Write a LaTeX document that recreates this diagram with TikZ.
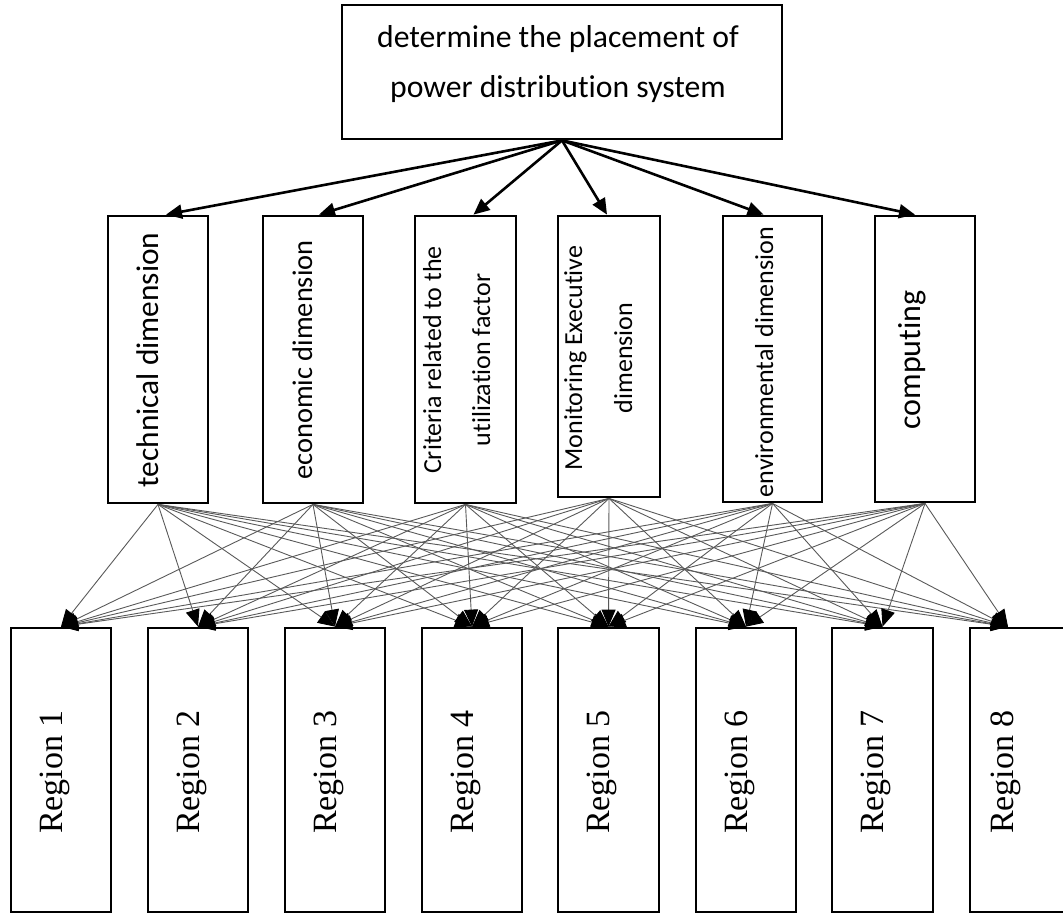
\documentclass[tikz,border=0pt]{standalone}
\usepackage{fontspec}
\setmainfont{Liberation Serif}
\newfontfamily\calfont[Ligatures=NoCommon]{Carlito}
\usetikzlibrary{arrows.meta,calc}
\begin{document}
\begin{tikzpicture}[x=1pt,y=-1pt,
  box/.style={draw=black,line width=2.8pt,inner sep=0pt},
  midbox/.style={box,minimum width=100pt,minimum height=287pt},
  regbox/.style={box,minimum width=100pt,minimum height=284pt},
  toparrow/.style={line width=2.6pt,-{Triangle[length=16pt,width=14pt]}},
  fan/.style={line width=0.9pt,draw=black!65,-{Triangle[length=17pt,width=14pt,fill=black,color=black]}},
  vtext/.style={rotate=90,anchor=base,inner sep=0pt},
  regtext/.style={vtext,font=\fontsize{34}{40}\selectfont}
]
\useasboundingbox (0,0) rectangle (1063,914);

% top box
\node[box,minimum width=440pt,minimum height=134pt] (top) at (562,72) {};
\node[anchor=base,inner sep=0pt,font=\calfont\fontsize{31.7}{38}\selectfont] (tt1) at (558,47) {determine the placement of};
\node[anchor=base,inner sep=0pt,font=\calfont\fontsize{31.7}{38}\selectfont] (tt2) at (558,97) {power distribution system};

% middle boxes
\node[midbox] (m1) at (158,359.5) {};
\node[midbox] (m2) at (313,359.5) {};
\node[midbox,minimum width=101pt] (m3) at (465.5,359.5) {};
\node[midbox,minimum width=102pt,minimum height=281pt] (m4) at (609,356.5) {};
\node[midbox,minimum width=99pt,minimum height=286pt] (m5) at (772.5,359) {};
\node[midbox,minimum height=286pt] (m6) at (925,359) {};

\node[vtext,font=\calfont\fontsize{31.4}{38}\selectfont] (t1) at (158,360) {technical dimension};
\node[vtext,font=\calfont\fontsize{28.4}{34}\selectfont] (t2) at (312,360) {economic dimension};
\node[vtext,font=\calfont\fontsize{26}{31}\selectfont] (t3a) at (441,360) {Criteria related to the};
\node[vtext,font=\calfont\fontsize{26}{31}\selectfont] (t3b) at (490,360) {utilization factor};
\node[vtext,font=\calfont\fontsize{26}{31}\selectfont] (t4a) at (582,358) {Monitoring Executive};
\node[vtext,font=\calfont\fontsize{26}{31}\selectfont] (t4b) at (632,358) {dimension};
\node[vtext,font=\calfont\fontsize{26}{31}\selectfont] (t5) at (773,362) {environmental dimension};
\node[vtext,font=\calfont\fontsize{32}{38}\selectfont] (t6) at (920,360) {computing};

% region boxes
\node[regbox] (r1) at (61,770) {};
\node[regbox] (r2) at (198,770) {};
\node[regbox] (r3) at (335,770) {};
\node[regbox] (r4) at (472,770) {};
\node[regbox,minimum width=101pt] (r5) at (608.5,770) {};
\node[regbox] (r6) at (746,770) {};
\node[regbox,minimum width=101pt] (r7) at (882.5,770) {};
\node[regbox] (r8) at (1020,770) {};

\node[regtext] (rt1) at (62,772) {Region 1};
\node[regtext] (rt2) at (199,772) {Region 2};
\node[regtext] (rt3) at (336,772) {Region 3};
\node[regtext] (rt4) at (473,772) {Region 4};
\node[regtext] (rt5) at (609,772) {Region 5};
\node[regtext] (rt6) at (747,772) {Region 6};
\node[regtext] (rt7) at (883,772) {Region 7};
\node[regtext] (rt8) at (1013,772) {Region 8};

% top arrows
\draw[toparrow] (top.south) -- ($(m1.north)+(8,0)$);
\draw[toparrow] (top.south) -- ($(m2.north)+(6,0)$);
\draw[toparrow] (top.south) -- ($(m3.north)+(8,0)$);
\draw[toparrow] (top.south) -- ($(m4.north)+(-2,0)$);
\draw[toparrow] (top.south) -- ($(m5.north)+(-9,0)$);
\draw[toparrow] (top.south) -- ($(m6.north)+(-10,0)$);

% fan of arrows
\foreach \m in {m1,m2,m3,m4,m5,m6}{
  \foreach \r in {r1,r2,r3,r4,r5,r6,r7}{
    \draw[fan] (\m.south) -- (\r.north);
  }
  \draw[fan] (\m.south) -- ($(r8.north)+(-12,0)$);
}
\end{tikzpicture}
\end{document}
